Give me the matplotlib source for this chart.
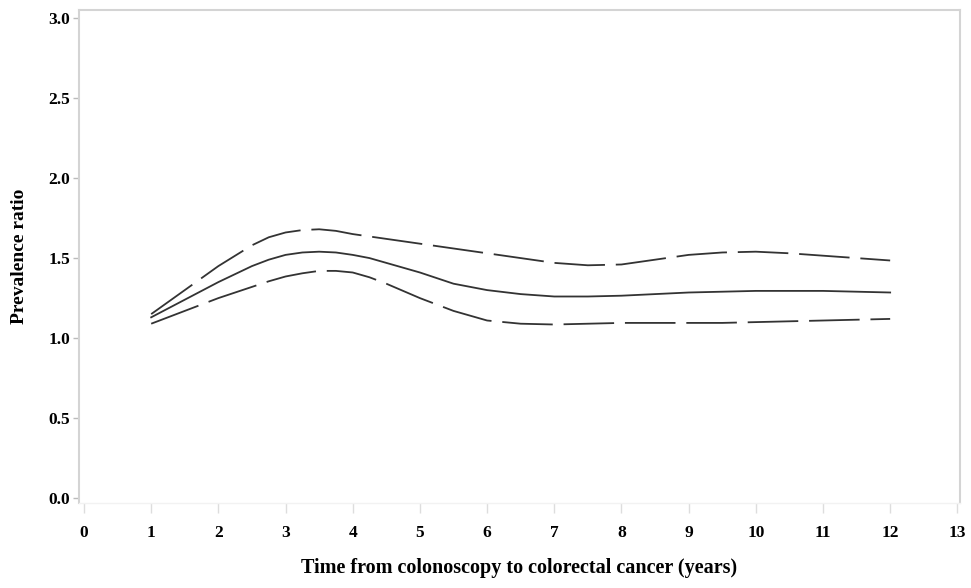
import matplotlib.pyplot as plt

# years from colonoscopy to CRC
years = [1.0, 1.5, 2.0, 2.5, 2.75, 3.0, 3.25, 3.5, 3.75, 4.0, 4.25, 4.5, 5.0, 5.5, 6.0, 6.5,
         7.0, 7.5, 8.0, 8.5, 9.0, 9.5, 10.0, 10.5, 11.0, 11.5, 12.0]

pr_est = [1.13, 1.24, 1.35, 1.45, 1.49, 1.52, 1.535, 1.54, 1.535, 1.52, 1.50, 1.47,
          1.41, 1.34, 1.30, 1.275, 1.26, 1.26, 1.265, 1.275, 1.285, 1.29, 1.295,
          1.295, 1.295, 1.29, 1.285]
pr_upper = [1.15, 1.30, 1.45, 1.58, 1.63, 1.66, 1.675, 1.68, 1.67, 1.65, 1.635, 1.62,
            1.59, 1.56, 1.53, 1.50, 1.47, 1.455, 1.46, 1.49, 1.52, 1.535, 1.54,
            1.53, 1.515, 1.50, 1.485]
pr_lower = [1.09, 1.17, 1.25, 1.32, 1.355, 1.385, 1.405, 1.42, 1.42, 1.41, 1.38, 1.34,
            1.25, 1.17, 1.11, 1.09, 1.085, 1.09, 1.095, 1.095, 1.095, 1.095, 1.10,
            1.105, 1.11, 1.115, 1.12]

xticks = list(range(0, 14))
yticks = [0.0, 0.5, 1.0, 1.5, 2.0, 2.5, 3.0]

plt.rcParams["font.family"] = ["Liberation Serif", "DejaVu Serif"]
plt.rcParams["font.weight"] = "bold"

fig = plt.figure(figsize=(9.71, 5.88), dpi=100)
ax = fig.add_axes([0.0814, 0.1446, 0.9073, 0.8384])

line_col = "#333333"
dash = (0, (28, 6))
ax.plot(years, pr_est, color=line_col, lw=1.3)
ax.plot(years, pr_upper, color=line_col, lw=1.3, linestyle=dash)
ax.plot(years, pr_lower, color=line_col, lw=1.3, linestyle=dash)

ax.set_xlim(-0.074, 13.04)
ax.set_ylim(-0.03, 3.05)
ax.set_xticks(xticks)
ax.set_yticks(yticks)
ax.set_yticklabels([f"{v:.1f}" for v in yticks])

for side in ["left", "right", "top"]:
    ax.spines[side].set_color("#d4d4d4")
    ax.spines[side].set_linewidth(1.5)
ax.spines["bottom"].set_color("#f2f2f2")
ax.spines["bottom"].set_linewidth(1.0)

ax.tick_params(axis="y", direction="out", length=4, width=1, color="#bbbbbb",
               labelsize=12.5, pad=2.5)
ax.tick_params(axis="x", direction="out", length=7, width=1, color="#dddddd",
               labelsize=12.5, pad=9)
for lbl in ax.get_xticklabels() + ax.get_yticklabels():
    lbl.set_fontweight("bold")

ax.set_xlabel("Time from colonoscopy to colorectal cancer (years)",
              fontsize=14.5, fontweight="bold")
ax.set_ylabel("Prevalence ratio", fontsize=14, fontweight="bold")
ax.xaxis.set_label_coords(0.5, -0.132)
ax.yaxis.set_label_coords(-0.068, 0.5)
ax.yaxis.label.set_verticalalignment("center")
ax.xaxis.label.set_verticalalignment("center")

fig.savefig("out.png", dpi=100)
